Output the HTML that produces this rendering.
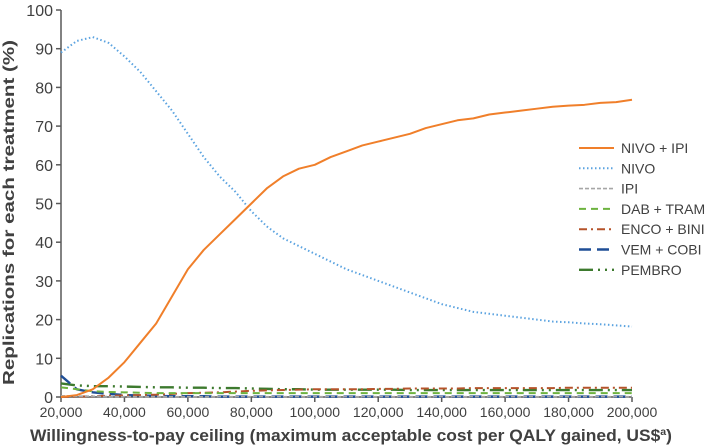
<!DOCTYPE html>
<html><head><meta charset="utf-8"><style>
body{margin:0;background:#fff;}
svg{display:block;font-family:"Liberation Sans",sans-serif;}
</style></head><body>
<svg id="c" width="709" height="448"></svg>
<script>
const xVals=[20,25,30,35,40,45,50,55,60,65,70,75,80,85,90,95,100,105,110,115,120,125,130,135,140,145,150,155,160,165,170,175,180,185,190,195,200];
const nivoIpi=[0,0.5,2,5,9,14,19,26,33,38,42,46,50,54,57,59,60,62,63.5,65,66,67,68,69.5,70.5,71.5,72,73,73.5,74,74.5,75,75.3,75.5,76,76.2,76.8];
const nivo=[89,92,93,91.5,88,84,79,74,68,62,57,53,48,44,41,39,37,35,33,31.5,30,28.5,27,25.5,24,23,22,21.5,21,20.5,20,19.5,19.3,19,18.8,18.5,18.2];
const ipi=[0.3,0.2,0.2,0.1,0.1,0.1,0.1,0.1,0.1,0.1,0.1,0.1,0.1,0.1,0.1,0.1,0.1,0.1,0.1,0.1,0.1,0.1,0.1,0.1,0.1,0.1,0.1,0.1,0.1,0.1,0.1,0.1,0.1,0.1,0.1,0.1,0.1];
const dabTram=[2.5,2,1.5,1.3,1.2,1.1,1,1,1,1,1,1,1,1,1,1,1,1,1,1,1,1,1,1,1,1,1,1,1,1,1,1,1,1,1,1,1];
const encoBini=[0,0.1,0.2,0.3,0.4,0.5,0.6,0.8,1,1.1,1.2,1.4,1.6,1.7,1.8,1.9,2,2,2,2,2.1,2.1,2.2,2.2,2.2,2.2,2.3,2.3,2.3,2.3,2.3,2.3,2.4,2.4,2.4,2.4,2.4];
const vemCobi=[5.5,2,1.2,0.8,0.5,0.4,0.3,0.2,0.2,0.2,0.1,0.1,0.1,0.1,0.1,0.1,0.1,0.1,0.1,0.1,0.1,0.1,0.1,0.1,0.1,0.1,0.1,0.1,0.1,0.1,0.1,0.1,0.1,0.1,0.1,0.1,0.1];
const pembro=[3.5,3,2.8,2.8,2.7,2.6,2.5,2.5,2.4,2.4,2.3,2.3,2.2,2.1,2,2,1.9,1.9,1.9,1.9,1.9,1.9,1.8,1.8,1.8,1.8,1.8,1.8,1.8,1.8,1.8,1.8,1.8,1.8,1.8,1.8,1.8];
const xTicks=[20,40,60,80,100,120,140,160,180,200];
const yTicks=[0,10,20,30,40,50,60,70,80,90,100];
const series=[
 {name:"NIVO + IPI",vals:nivoIpi,color:"#f07f2a",dash:"",w:2},
 {name:"NIVO",vals:nivo,color:"#5ba3e0",dash:"1.5 2.5",w:2},
 {name:"IPI",vals:ipi,color:"#a6a6a6",dash:"4 2",w:1.6},
 {name:"DAB + TRAM",vals:dabTram,color:"#6db33f",dash:"7 5",w:2},
 {name:"ENCO + BINI",vals:encoBini,color:"#b5532a",dash:"8 4 2 4",w:2},
 {name:"VEM + COBI",vals:vemCobi,color:"#1f4e96",dash:"12 6",w:2.4},
 {name:"PEMBRO",vals:pembro,color:"#3d7a2e",dash:"14 5 2 5 2 5",w:2.4}
];
const X0=61,X1=632,Y0=397,Y1=10;
const xs=v=>X0+(v-20)/(180)*(X1-X0);
const ys=v=>Y0-v/100*(Y0-Y1);
const svg=document.getElementById('c');
const NS="http://www.w3.org/2000/svg";
function mk(t,a){const e=document.createElementNS(NS,t);for(const k in a)e.setAttribute(k,a[k]);svg.appendChild(e);return e;}
let ax=mk('path',{d:`M${X0},${Y1}V${Y0}H${X1}`,stroke:'#595959','stroke-width':1.5,fill:'none'});


yTicks.forEach(v=>{
 const t=mk('line',{x1:X0-5,x2:X0,y1:ys(v),y2:ys(v),stroke:'#595959','stroke-width':1.5});
 
 
 const l=mk('text',{x:X0-8,y:ys(v)+6,'text-anchor':'end','font-size':16,fill:'#404040'});
 l.textContent=v;
 
 
});
xTicks.forEach(v=>{
 const t=mk('line',{x1:xs(v),x2:xs(v),y1:Y0,y2:Y0+5,stroke:'#595959','stroke-width':1.5});
 
 
 const l=mk('text',{x:xs(v),y:Y0+20,'text-anchor':'middle','font-size':14,fill:'#404040'});
 l.textContent=(v*1000).toLocaleString('en-US');
 
 
});
series.slice().reverse().forEach(s=>{
 const p=mk('polyline',{points:s.vals.map((v,i)=>xs(xVals[i])+','+ys(v)).join(' '),fill:'none',stroke:s.color,'stroke-width':s.w,'stroke-dasharray':s.dash,'stroke-linejoin':'round'});
 
 
});
series.forEach((s,i)=>{
 const y=148+i*20.3;
 const l=mk('line',{x1:579,x2:614,y1:y,y2:y,stroke:s.color,'stroke-width':s.w,'stroke-dasharray':s.dash});
 
 
 const t=mk('text',{x:621,y:y+5,'font-size':14,fill:'#404040'});
 t.textContent=s.name;
 
 
});
const xt=mk('text',{x:30,y:441,'font-size':16.5,'font-weight':'bold',fill:'#404040',textLength:642,lengthAdjust:'spacingAndGlyphs'});
xt.innerHTML='Willingness-to-pay ceiling (maximum acceptable cost per QALY gained, US$<tspan font-size="10" dy="-6">a</tspan><tspan dy="6">)</tspan>';


const yt=mk('text',{x:0,y:0,'font-size':16,'font-weight':'bold',fill:'#404040',transform:'translate(14,385) rotate(-90)',textLength:345,lengthAdjust:'spacingAndGlyphs'});
yt.textContent='Replications for each treatment (%)';


</script>
</body></html>
